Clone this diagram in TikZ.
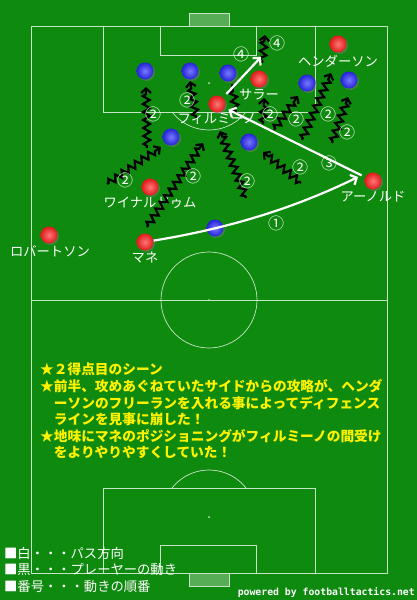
\documentclass[tikz,border=0pt]{standalone}
\usepackage{fontspec}
\newfontfamily\jp{Noto Sans CJK JP}
\newfontfamily\monof{DejaVu Sans Mono}
\usetikzlibrary{decorations.pathmorphing,arrows.meta,shadows}
\definecolor{pitch}{RGB}{14,138,14}
\definecolor{lineclr}{RGB}{200,228,200}
\definecolor{redin}{RGB}{255,120,120}
\definecolor{redout}{RGB}{225,25,25}
\definecolor{bluein}{RGB}{120,120,255}
\definecolor{blueout}{RGB}{35,35,215}

\begin{document}
\begin{tikzpicture}[x=1pt, y=-1pt,
  player/.style={circle, minimum size=17pt, inner sep=0pt, drop shadow={shadow xshift=1.5pt, shadow yshift=-1.5pt, opacity=0.45}},
  redp/.style={player, shading=radial, inner color=redin, outer color=redout},
  bluep/.style={player, shading=radial, inner color=bluein, outer color=blueout},
  plabel/.style={text=white, inner sep=0pt, font=\jp\fontsize{13.3}{14}\selectfont},
  order/.style={text=white, inner sep=0pt, font=\jp\fontsize{16}{17}\selectfont},
  pass/.style={draw=white, line width=2.2pt, -{Straight Barb[length=5pt,width=11pt]}},
  run/.style={draw=black, line width=2.2pt, -{Straight Barb[length=4.5pt,width=10pt]}, decorate, decoration={zigzag, segment length=8pt, amplitude=3.4pt, pre length=2pt, post length=5pt}}]
  % pitch
  \fill[pitch] (0,0) rectangle (417,600);
  \draw[lineclr, line width=0.7pt] (31,26) rectangle (387,573);
  \draw[lineclr, line width=0.7pt] (31,300) -- (387,300);
  \draw[lineclr, line width=0.7pt] (209,300) circle[radius=48];
  \draw[lineclr, line width=0.7pt] (103,26) rectangle (315,112);
  \draw[lineclr, line width=0.7pt] (160,26) rectangle (256,55);
  \draw[lineclr, line width=0.7pt] (103,488) rectangle (315,573);
  \draw[lineclr, line width=0.7pt] (160,545) rectangle (256,573);
  \begin{scope}
    \clip (0,112) rectangle (417,200);
    \draw[lineclr, line width=0.7pt] (209,83) circle[radius=47];
  \end{scope}
  \begin{scope}
    \clip (0,400) rectangle (417,488);
    \draw[lineclr, line width=0.7pt] (209,517) circle[radius=47];
  \end{scope}
  \fill[lineclr] (209,83) circle[radius=1];
  \fill[lineclr] (209,300) circle[radius=1];
  \fill[lineclr] (209,517) circle[radius=1];
  \draw[lineclr, fill=white, fill opacity=0.3] (189,13) rectangle (229,26);
  \draw[lineclr, fill=white, fill opacity=0.3] (189,573) rectangle (229,586);
  % players
  \node[bluep] (b1) at (145,71) {};
  \node[bluep] (b2) at (190,71) {};
  \node[bluep] (b3) at (228,73) {};
  \node[bluep] (b4) at (307,83) {};
  \node[bluep] (b5) at (349,80) {};
  \node[bluep] (b6) at (171,137) {};
  \node[bluep] (b7) at (249,142) {};
  \node[bluep] (b8) at (215,228) {};
  \node[redp] (hend) at (338,44) {};
  \node[redp] (salah) at (259,79) {};
  \node[redp] (firm) at (217,104) {};
  \node[redp] (wijn) at (150,187) {};
  \node[redp] (robe) at (49,235) {};
  \node[redp] (mane) at (145,242) {};
  \node[redp] (arn) at (373,181) {};
  % names
  \node[plabel] (hendl) at (338,61) {ヘンダーソン};
  \node[plabel] (salahl) at (259,95) {サラー};
  \node[plabel] (firml) at (217,119) {フィルミーノ};
  \node[plabel] (wijnl) at (150,203) {ワイナルドゥム};
  \node[plabel] (robel) at (50,251) {ロバートソン};
  \node[plabel] (manel) at (145,257) {マネ};
  \node[plabel] (arnl) at (373,197) {アーノルド};
  % runs
  \coordinate (ra0) at (147,148); \coordinate (ra1) at (146,87);
  \coordinate (rb0) at (196,118); \coordinate (rb1) at (190,81);
  \coordinate (rc0) at (236,113); \coordinate (rc1) at (232,84);
  \coordinate (rd0) at (262,63);  \coordinate (rd1) at (265,35);
  \coordinate (re0) at (246,198); \coordinate (re1) at (220,131);
  \coordinate (rf0) at (263,124); \coordinate (rf1) at (264,98);
  \coordinate (rg0) at (274,130); \coordinate (rg1) at (298,96);
  \coordinate (rh0) at (302,140); \coordinate (rh1) at (331,73);
  \coordinate (ri0) at (332,143); \coordinate (ri1) at (348,97);
  \coordinate (rj0) at (301,183); \coordinate (rj1) at (263,152);
  \coordinate (rk0) at (107,184); \coordinate (rk1) at (161,147);
  \coordinate (rl0) at (147,227); \coordinate (rl1) at (203,143);
  \draw[run] (ra0) -- (ra1);
  \draw[run] (rb0) -- (rb1);
  \draw[run, -] (rc0) -- (rc1);
  \draw[run] (rd0) -- (rd1);
  \draw[run] (re0) -- (re1);
  \draw[run] (rf0) -- (rf1);
  \draw[run] (rg0) -- (rg1);
  \draw[run] (rh0) -- (rh1);
  \draw[run] (ri0) -- (ri1);
  \draw[run] (rj0) -- (rj1);
  \draw[run] (rk0) -- (rk1);
  \draw[run] (rl0) -- (rl1);
  % passes
  \coordinate (p1) at (358,177);
  \coordinate (p4) at (261,57);
  \draw[pass] (mane) .. controls (250,225) and (315,198) .. (p1);
  \draw[pass, shorten <=4pt, shorten >=4pt] (arn) -- (firm);
  \draw[pass, shorten <=5pt] (firm) -- (p4);
  % order numbers
  \node[order] (o1) at (276,223) {①};
  \node[order] (o3) at (329,163) {③};
  \node[order] (o4a) at (241,54) {④};
  \node[order] (o4b) at (277,43) {④};
  \node[order] (o2a) at (153,114) {②};
  \node[order] (o2b) at (187,100) {②};
  \node[order] (o2c) at (247,181) {②};
  \node[order] (o2d) at (270,114) {②};
  \node[order] (o2e) at (296,119) {②};
  \node[order] (o2f) at (328,114) {②};
  \node[order] (o2g) at (347,132) {②};
  \node[order] (o2h) at (300,167) {②};
  \node[order] (o2i) at (125,180) {②};
  \node[order] (o2j) at (193,176) {②};
  % comment and legend
  \node[anchor=north west, inner sep=0pt, align=left, text=yellow, font=\jp\bfseries\fontsize{13.7}{16.6}\selectfont] (memo) at (40,363) {★２得点目のシーン\\★前半、攻めあぐねていたサイドからの攻略が、ヘンダ\\\hspace*{1em}ーソンのフリーランを入れる事によってディフェンス\\\hspace*{1em}ラインを見事に崩した！\\★地味にマネのポジショニングがフィルミーノの間受け\\\hspace*{1em}をよりやりやすくしていた！};
  \node[anchor=north west, inner sep=0pt, align=left, text=white, font=\jp\fontsize{13.3}{16.5}\selectfont] (legend) at (4,547) {■白・・・パス方向\\■黒・・・プレーヤーの動き\\■番号・・・動きの順番};
  \node[anchor=east, inner sep=0pt, text=white, font=\monof\bfseries\fontsize{9.8}{10}\selectfont] (credit) at (415,593) {powered by footballtactics.net};
\end{tikzpicture}
\end{document}
